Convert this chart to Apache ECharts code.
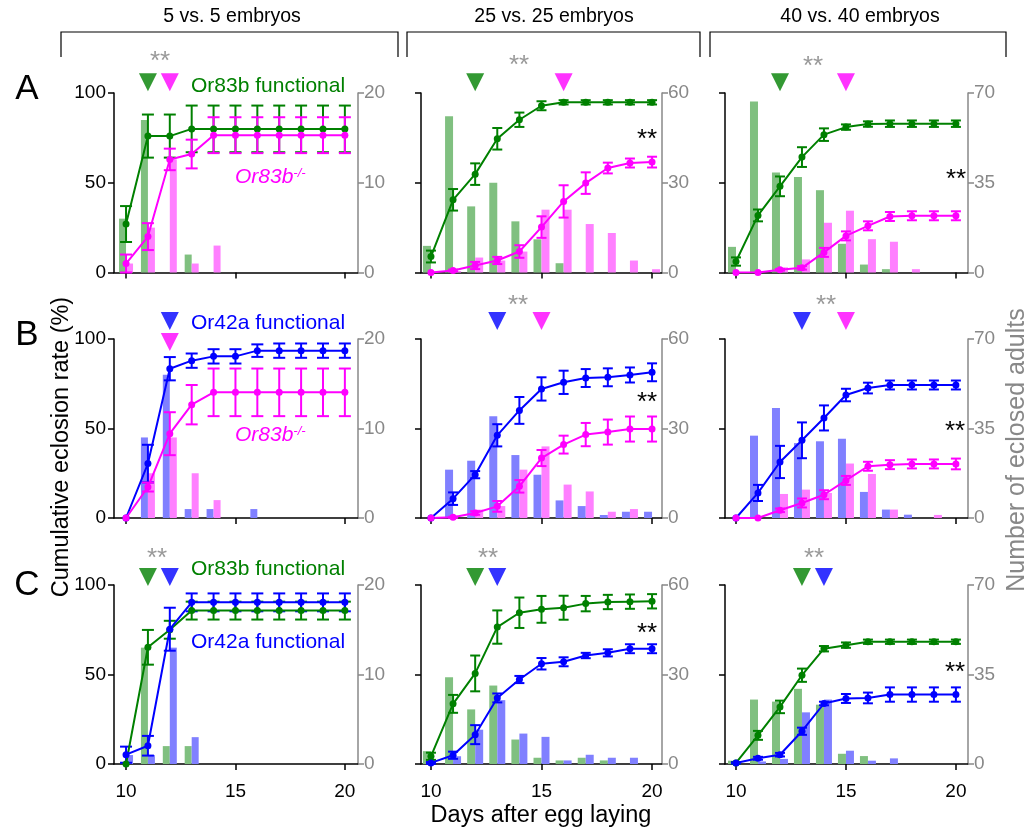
<!DOCTYPE html>
<html><head><meta charset="utf-8">
<script src="https://cdn.jsdelivr.net/npm/echarts@6/dist/echarts.min.js"></script>
<style>html,body{margin:0;padding:0;background:#fff}#c{width:1029px;height:833px}</style>
</head><body><div id="c"></div>
<script>
// ---------------- DATA ----------------
const days = [10, 11, 12, 13, 14, 15, 16, 17, 18, 19, 20];
const xTicks = [10, 15, 20];
const colTitles = ['5 vs. 5 embryos', '25 vs. 25 embryos', '40 vs. 40 embryos'];
const rowLetters = ['A', 'B', 'C'];
const rightMax = [20, 60, 70];

// Row A: Or83b functional (green) vs Or83b-/- (magenta)
const a1GreenPct = [27, 76, 76, 80, 80, 80, 80, 80, 80, 80, 80];
const a1GreenErr = [10, 12, 12, 13, 13, 13, 13, 13, 13, 13, 13];
const a1MagPct = [5, 20, 63, 66, 76.5, 76.5, 76.5, 76.5, 76.5, 76.5, 76.5];
const a1MagErr = [5, 7.5, 6, 8, 10, 10, 10, 10, 10, 10, 10];
const a1GreenBars = [6, 17, 0, 2, 0, 0, 0, 0, 0, 0, 0];
const a1MagBars = [1, 5, 12.6, 1, 3, 0, 0, 0, 0, 0, 0];
const a1Arrows = [11, 12];

const a2GreenPct = [8.9, 40.5, 54.8, 74.5, 85.1, 92.9, 94.8, 94.8, 94.8, 94.8, 94.8];
const a2GreenErr = [3.3, 6, 6, 6, 4, 2.5, 1.2, 1.2, 1.2, 1.2, 1.2];
const a2MagPct = [0, 1.1, 3.9, 6.7, 11.7, 25.3, 39.6, 49.8, 58.2, 61, 61.5];
const a2MagErr = [0, 0.5, 2, 2, 3.5, 6, 9, 6, 3, 2.5, 3];
const a2GreenBars = [8.9, 52.2, 22.1, 30, 17.1, 11.1, 3.1, 0, 0, 0, 0];
const a2MagBars = [0, 0.5, 5, 4, 7, 21, 21, 16.2, 13.2, 4, 1.1];
const a2Arrows = [12, 16];

const a3GreenPct = [6.1, 31.8, 48, 64.3, 76.8, 81, 82.7, 82.9, 82.9, 82.9, 82.9];
const a3GreenErr = [2.3, 3.3, 5.5, 5.5, 3.5, 1.5, 1.5, 1.8, 1.8, 1.8, 1.8];
const a3MagPct = [0, 0, 1.5, 2.6, 11.2, 20.4, 26, 31.2, 31.6, 31.6, 31.6];
const a3MagErr = [0, 0, 0.5, 1, 2.5, 2.5, 2.5, 2.5, 2.5, 2.5, 2.5];
const a3GreenBars = [10, 66.7, 39, 37.2, 32.1, 11.2, 3.1, 1.3, 0, 0, 0];
const a3MagBars = [0, 0, 2, 5.1, 19.4, 24.1, 13, 12, 1.3, 0, 0];
const a3Arrows = [12, 15];

// Row B: Or42a functional (blue) vs Or83b-/- (magenta)
const b1BluePct = [0, 30.4, 83.4, 87.9, 90.3, 90.3, 93.5, 93.5, 93.5, 93.5, 93.5];
const b1BlueErr = [0, 10.5, 6.5, 4, 4, 4, 3.5, 4, 4, 4, 4];
const b1MagPct = [0, 17.3, 47.1, 63.3, 70.2, 70.2, 70.2, 70.2, 70.2, 70.2, 70.2];
const b1MagErr = [0, 2.5, 12, 11, 13.3, 13.3, 13.3, 13.3, 13.3, 13.3, 13.3];
const b1BlueBars = [0, 9, 16, 1, 1, 0, 1, 0, 0, 0, 0];
const b1MagBars = [0, 5, 9, 5, 2, 0, 0, 0, 0, 0, 0];
const b1Arrows = [12, 12];

const b2BluePct = [0, 10.8, 24.2, 46.2, 60.1, 72.1, 75.8, 78.2, 78.6, 79.9, 81.4];
const b2BlueErr = [0, 3.5, 2, 6.2, 7.5, 6.5, 6.5, 5, 5, 4.2, 5];
const b2MagPct = [0, 0.4, 2.8, 6.5, 17.7, 33.5, 41, 46.6, 48, 49.7, 49.7];
const b2MagErr = [0, 0.3, 1, 3, 3.5, 4.5, 5, 6.5, 7, 7, 7];
const b2BlueBars = [0, 16.2, 19.2, 34.1, 21.1, 14.5, 5.9, 4, 1, 2.1, 2.1];
const b2MagBars = [0, 0, 2.8, 4, 16.2, 24, 11.2, 8.9, 2.1, 3, 0];
const b2Arrows = [13, 15];

const b3BluePct = [0, 14, 31.3, 43.4, 55.9, 68.7, 72.6, 74.3, 74.3, 74.3, 74.3];
const b3BlueErr = [0, 4.5, 9, 10, 7, 3.5, 3, 2.5, 2.5, 2.5, 2.5];
const b3MagPct = [0, 0, 4.3, 8.4, 13, 21, 28.9, 29.8, 30.2, 30.2, 30.2];
const b3MagErr = [0, 0, 1, 2.5, 2.5, 2.5, 2.5, 2.5, 2.5, 2.5, 3];
const b3BlueBars = [0, 32.2, 43, 29.3, 30, 31, 10.2, 3.3, 1.3, 0, 0];
const b3MagBars = [0, 0, 9.4, 11.1, 9.8, 21.3, 17.2, 3.3, 0, 1.2, 0];
const b3Arrows = [13, 15];

// Row C: Or83b functional (green) vs Or42a functional (blue)
const c1GreenPct = [0, 65.2, 75, 85.7, 85.7, 85.7, 85.7, 85.7, 85.7, 85.7, 85.7];
const c1GreenErr = [0, 9.7, 5, 5, 5, 5, 5, 5, 5, 5, 5];
const c1BluePct = [5.2, 10.2, 75.3, 90.3, 90.3, 90.3, 90.3, 90.3, 90.3, 90.3, 90.3];
const c1BlueErr = [4.5, 5.5, 12, 5, 5, 5, 5, 5, 5, 5, 5];
const c1GreenBars = [0, 13, 2, 2, 0, 0, 0, 0, 0, 0, 0];
const c1BlueBars = [1, 1, 13, 3, 0, 0, 0, 0, 0, 0, 0];
const c1Arrows = [11, 12];

const c2GreenPct = [4.3, 33.6, 50.6, 76.5, 84.5, 86.4, 87.3, 89.6, 90.5, 90.7, 90.9];
const c2GreenErr = [2, 5, 10, 9.3, 8.5, 7.5, 6.7, 4.3, 4, 4, 4];
const c2BluePct = [0.6, 4.9, 16.4, 36.9, 47.2, 56, 57.1, 60.6, 62.1, 64.4, 64.4];
const c2BlueErr = [0.5, 2, 5.3, 2.5, 2, 3.2, 2.5, 1.5, 2, 2.5, 2.5];
const c2GreenBars = [4.3, 29.1, 18.3, 26.3, 8.2, 2.1, 1.2, 2.1, 1.2, 0, 0];
const c2BlueBars = [0, 2.6, 11.5, 21.4, 10.2, 9.1, 1.2, 3.1, 2.1, 2.1, 0];
const c2Arrows = [12, 13];

const c3GreenPct = [0.6, 16, 31.9, 49.6, 64.4, 66.4, 68.3, 68.3, 68.3, 68.3, 68.3];
const c3GreenErr = [0.5, 2.5, 3.5, 3.7, 1.5, 1.5, 1.2, 1.2, 1.2, 1.2, 1.2];
const c3BluePct = [0.6, 3.2, 5.2, 18.3, 33.8, 36.6, 36.9, 38.8, 38.8, 38.8, 38.8];
const c3BlueErr = [0.3, 0.8, 1, 2, 1, 2.5, 3, 4, 4, 4, 4];
const c3GreenBars = [1.3, 25.2, 24.4, 29.4, 23.2, 4, 3.1, 0, 0, 0, 0];
const c3BlueBars = [0, 1, 2, 20.2, 25.2, 5.2, 1.3, 2.2, 0, 0, 0];
const c3Arrows = [13, 14];

// ---------------- STYLE / LAYOUT ----------------
const COLORS = {
  g: { line: '#008000', bar: '#80c080' },
  m: { line: '#ff00ff', bar: '#ff80ff' },
  b: { line: '#0000ff', bar: '#8080ff' }
};
const FONT = 'Liberation Sans, Arial, sans-serif';
const cols = [
  { left: 114, width: 244, min: 9.45, max: 20.6, bw: 7, cap: 6 },
  { left: 421, width: 241, min: 9.55, max: 20.45, bw: 8, cap: 5 },
  { left: 725, width: 243, min: 9.5, max: 20.55, bw: 8, cap: 5 }
];
const rows = [
  { top: 93, height: 179.5, arrowY: 106 },
  { top: 339, height: 179, arrowY: 110 },
  { top: 585, height: 179, arrowY: 104.5 }
];

const panels = [
  { r: 0, c: 0, s: [['g', a1GreenPct, a1GreenErr, a1GreenBars], ['m', a1MagPct, a1MagErr, a1MagBars]], arrows: a1Arrows },
  { r: 0, c: 1, s: [['g', a2GreenPct, a2GreenErr, a2GreenBars], ['m', a2MagPct, a2MagErr, a2MagBars]], arrows: a2Arrows },
  { r: 0, c: 2, s: [['g', a3GreenPct, a3GreenErr, a3GreenBars], ['m', a3MagPct, a3MagErr, a3MagBars]], arrows: a3Arrows },
  { r: 1, c: 0, s: [['b', b1BluePct, b1BlueErr, b1BlueBars], ['m', b1MagPct, b1MagErr, b1MagBars]], arrows: b1Arrows },
  { r: 1, c: 1, s: [['b', b2BluePct, b2BlueErr, b2BlueBars], ['m', b2MagPct, b2MagErr, b2MagBars]], arrows: b2Arrows },
  { r: 1, c: 2, s: [['b', b3BluePct, b3BlueErr, b3BlueBars], ['m', b3MagPct, b3MagErr, b3MagBars]], arrows: b3Arrows },
  { r: 2, c: 0, s: [['g', c1GreenPct, c1GreenErr, c1GreenBars], ['b', c1BluePct, c1BlueErr, c1BlueBars]], arrows: c1Arrows },
  { r: 2, c: 1, s: [['g', c2GreenPct, c2GreenErr, c2GreenBars], ['b', c2BluePct, c2BlueErr, c2BlueBars]], arrows: c2Arrows },
  { r: 2, c: 2, s: [['g', c3GreenPct, c3GreenErr, c3GreenBars], ['b', c3BluePct, c3BlueErr, c3BlueBars]], arrows: c3Arrows }
];

const grid = [], xAxis = [], yAxis = [], series = [];
panels.forEach((p, i) => {
  const col = cols[p.c], row = rows[p.r];
  grid.push({ left: col.left, top: row.top, width: col.width, height: row.height });
  xAxis.push({
    gridIndex: i, type: 'value', min: col.min, max: col.max,
    axisLine: { show: true, onZero: false, lineStyle: { color: '#000', width: 1.5 } },
    axisTick: { show: true, customValues: xTicks, length: 6, lineStyle: { color: '#000', width: 1.5 } },
    axisLabel: { show: p.r === 2, customValues: xTicks, fontSize: 19, fontFamily: FONT, color: '#000', margin: 18 },
    splitLine: { show: false }
  });
  yAxis.push({
    gridIndex: i, type: 'value', min: 0, max: 100, interval: 50, position: 'left',
    axisLine: { show: true, onZero: false, lineStyle: { color: '#000', width: 1.5 } },
    axisTick: { show: true, length: 6, lineStyle: { color: '#000', width: 1.5 } },
    axisLabel: { show: p.c === 0, fontSize: 19, fontFamily: FONT, color: '#000', margin: 8 },
    splitLine: { show: false }
  });
  yAxis.push({
    gridIndex: i, type: 'value', min: 0, max: rightMax[p.c], interval: rightMax[p.c] / 2, position: 'right',
    axisLine: { show: true, onZero: false, lineStyle: { color: '#888', width: 1.5 } },
    axisTick: { show: true, length: 6, lineStyle: { color: '#888', width: 1.5 } },
    axisLabel: { show: true, fontSize: 19, fontFamily: FONT, color: '#888', margin: 6 },
    splitLine: { show: false }
  });
  // bars
  p.s.forEach(([k, pct, err, bars]) => {
    series.push({
      type: 'bar', xAxisIndex: i, yAxisIndex: 2 * i + 1, barWidth: col.bw, barGap: '0%',
      data: days.map((d, j) => [d, bars[j]]), itemStyle: { color: COLORS[k].bar }, z: 1, silent: true
    });
  });
  // error bars + lines
  p.s.forEach(([k, pct, err]) => {
    const color = COLORS[k].line, hw = col.cap;
    series.push({
      type: 'custom', xAxisIndex: i, yAxisIndex: 2 * i, z: 3, silent: true,
      data: days.map((d, j) => [d, pct[j], err[j]]),
      renderItem: (params, api) => {
        const x = api.value(0), y = api.value(1), e = api.value(2);
        if (!(e > 0)) return { type: 'group', children: [] };
        const t = api.coord([x, y + e]), b = api.coord([x, y - e]);
        const st = { stroke: color, lineWidth: 2 };
        return { type: 'group', children: [
          { type: 'line', shape: { x1: t[0], y1: t[1], x2: b[0], y2: b[1] }, style: st },
          { type: 'line', shape: { x1: t[0] - hw, y1: t[1], x2: t[0] + hw, y2: t[1] }, style: st },
          { type: 'line', shape: { x1: b[0] - hw, y1: b[1], x2: b[0] + hw, y2: b[1] }, style: st }
        ] };
      }
    });
    series.push({
      type: 'line', xAxisIndex: i, yAxisIndex: 2 * i, z: 4, silent: true,
      data: days.map((d, j) => [d, pct[j]]), symbol: 'circle', symbolSize: 7, showSymbol: true,
      lineStyle: { color, width: 2 }, itemStyle: { color }
    });
  });
  // median arrows
  const same = p.arrows[0] === p.arrows[1];
  p.arrows.forEach((d, j) => {
    const yv = same && j === 1 ? 98.3 : row.arrowY;
    series.push({
      type: 'scatter', xAxisIndex: i, yAxisIndex: 2 * i, z: 5, clip: false, silent: true,
      data: [[d, yv]], symbol: 'triangle', symbolRotate: 180, symbolSize: [18, 18],
      itemStyle: { color: COLORS[p.s[j][0]].line }
    });
  });
});

// ---------------- TEXT ----------------
const graphic = [];
function txt(text, x, y, opts) {
  graphic.push(Object.assign({ type: 'text', x, y, silent: true,
    style: Object.assign({ text, font: '20px ' + FONT, fill: '#000', textAlign: 'center', textVerticalAlign: 'middle' }, opts || {}) }));
}
const titleX = [232, 554, 860];
const brackets = [[61, 398], [407, 700], [710, 1006]];
colTitles.forEach((t, k) => {
  txt(t, titleX[k], 17, { font: '19.5px ' + FONT });
  graphic.push({ type: 'polyline', silent: true,
    shape: { points: [[brackets[k][0], 57], [brackets[k][0], 32], [brackets[k][1], 32], [brackets[k][1], 57]] },
    style: { stroke: '#000', lineWidth: 1.2, fill: null } });
});
rowLetters.forEach((t, k) => txt(t, 27, [89, 335, 585][k], { font: '35px ' + FONT }));

const grayStars = [[160, 57], [519, 61], [813, 62], [518, 301], [826, 301], [157, 554], [488, 554], [814, 554]];
grayStars.forEach(([x, y]) => txt('**', x, y + 5, { font: '26px ' + FONT, fill: '#999' }));
const blackStars = [[647, 135], [956, 175], [647, 398], [955, 427], [647, 629], [955, 668]];
blackStars.forEach(([x, y]) => txt('**', x, y + 5, { font: '26px ' + FONT, fill: '#000' }));

txt('Or83b functional', 191, 86, { textAlign: 'left', font: '21px ' + FONT, fill: COLORS.g.line });
txt('Or42a functional', 191, 323, { textAlign: 'left', font: '21px ' + FONT, fill: COLORS.b.line });
txt('Or83b functional', 191, 569, { textAlign: 'left', font: '21px ' + FONT, fill: COLORS.g.line });
txt('Or42a functional', 191, 642, { textAlign: 'left', font: '21px ' + FONT, fill: COLORS.b.line });
const ko = { textAlign: 'left', text: '{a|Or83b}{s|-/-}', rich: {
  a: { font: 'italic 21px ' + FONT, fill: COLORS.m.line },
  s: { font: 'italic 13px ' + FONT, fill: COLORS.m.line, verticalAlign: 'top' } } };
txt('', 235, 177, ko);
txt('', 235, 435, ko);

txt('Cumulative eclosion rate (%)', 62, 447, { font: '23.5px ' + FONT });
graphic[graphic.length - 1].rotation = Math.PI / 2;
txt('Number of eclosed adults', 1017, 450, { font: '25px ' + FONT, fill: '#888' });
graphic[graphic.length - 1].rotation = Math.PI / 2;
txt('Days after egg laying', 541, 816, { font: '23.5px ' + FONT });

const chart = echarts.init(document.getElementById('c'), null, { renderer: 'canvas' });
chart.setOption({ animation: false, backgroundColor: '#fff', grid, xAxis, yAxis, series, graphic });
</script></body></html>
